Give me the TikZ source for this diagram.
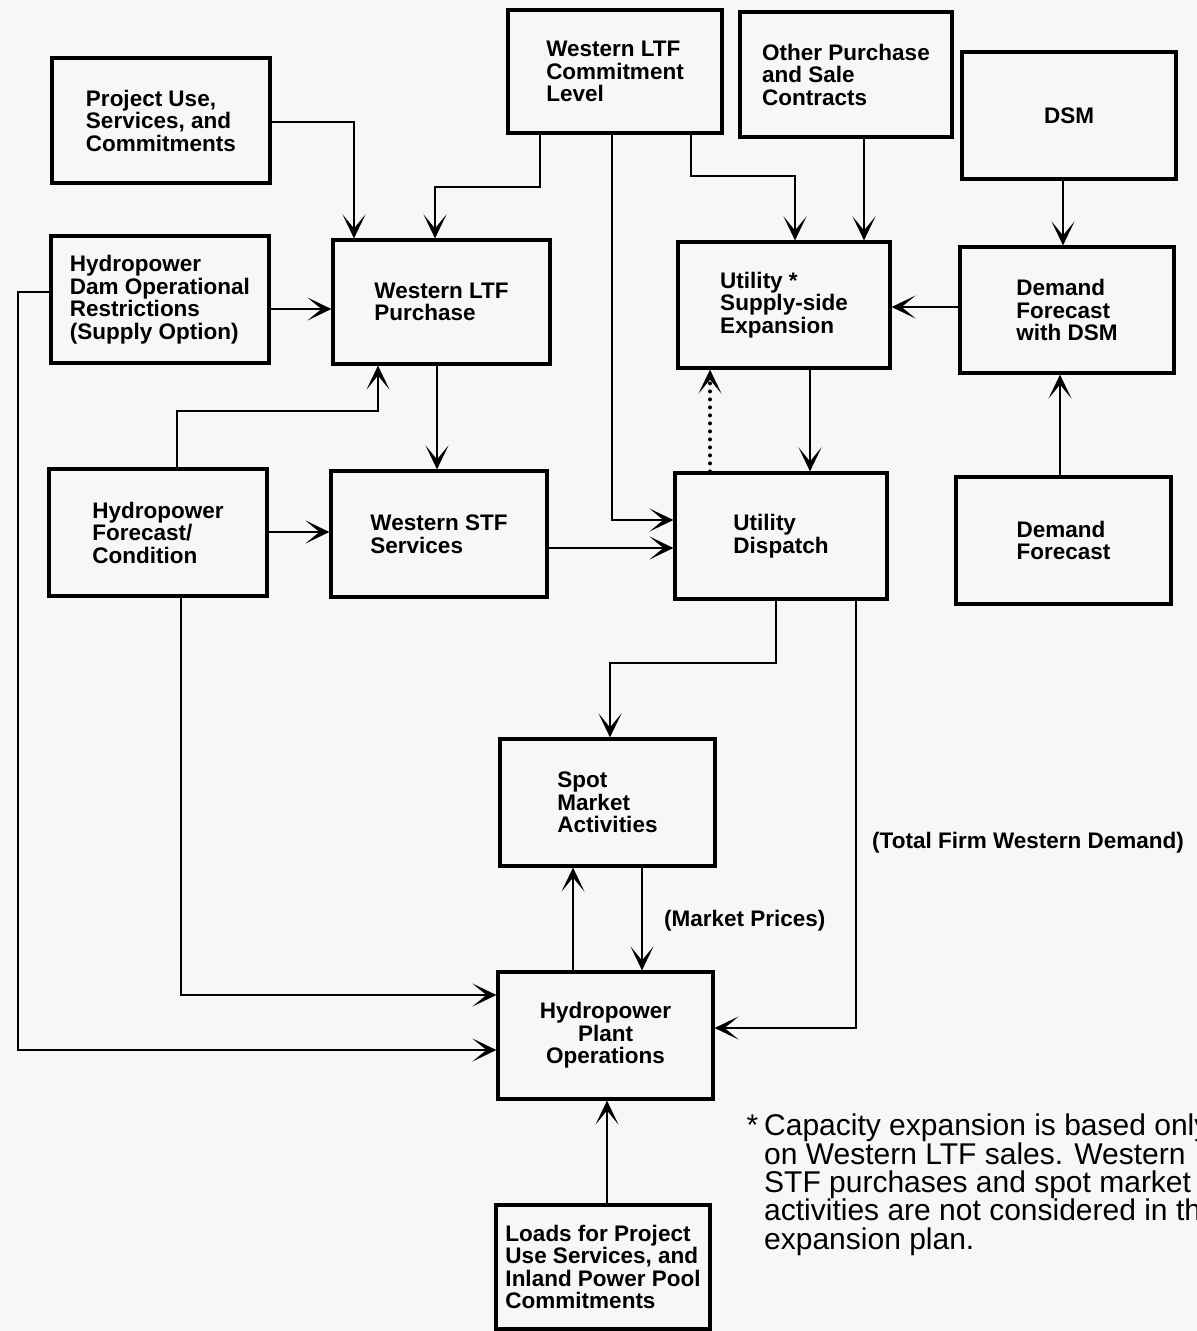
\documentclass[tikz,border=0pt]{standalone}
\usepackage{fontspec}
\setmainfont{Liberation Sans}
\usetikzlibrary{arrows.meta}
\definecolor{bg}{RGB}{247,247,247}
\begin{document}
\begin{tikzpicture}[x=1pt,y=-1pt,
  box/.style={draw, line width=3.2pt, inner sep=0pt, align=left,
    font=\fontsize{22.5}{22.5}\selectfont\bfseries},
  tip/.tip={Stealth[length=24pt,width=23pt,inset=14pt]},
  arr/.style={line width=2.9pt, -tip},
  dotarr/.style={line width=4pt, line cap=round, dash pattern=on 0pt off 8pt, -tip},
  lbl/.style={inner sep=0pt, anchor=west, font=\fontsize{22.5}{22.5}\selectfont\bfseries},
  note/.style={inner sep=0pt, anchor=north west, align=left, font=\fontsize{30}{28.3}\selectfont}]
\fill[bg] (0,0) rectangle (1197,1331);
\useasboundingbox (0,0) rectangle (1197,1331);
\clip (0,0) rectangle (1197,1331);

% boxes
\node[box, minimum width=218pt, minimum height=125pt] (PU) at (161,120.5) {Project Use,\hspace{8pt}\\Services, and\hspace{8pt}\\Commitments\hspace{8pt}};
\node[box, minimum width=214pt, minimum height=123pt] (WCL) at (615,71.5) {Western LTF\\Commitment\\Level};
\node[box, minimum width=212pt, minimum height=125pt] (OPC) at (846,74.5) {Other Purchase\\and Sale\\Contracts};
\node[box, minimum width=214pt, minimum height=127pt] (DSM) at (1069,115.5) {DSM};
\node[box, minimum width=218pt, minimum height=127pt] (HDR) at (160,299.5) {Hydropower\\Dam Operational\\Restrictions\\(Supply Option)};
\node[box, minimum width=217pt, minimum height=124pt] (WLP) at (441.5,302) {Western LTF\\Purchase};
\node[box, minimum width=212pt, minimum height=126pt] (USE) at (784,305) {Utility *\\Supply-side\\Expansion};
\node[box, minimum width=214pt, minimum height=126pt] (DFD) at (1067,310) {Demand\\Forecast\\with DSM};
\node[box, minimum width=218pt, minimum height=127pt] (HFC) at (158,532.5) {Hydropower\\Forecast/\\Condition};
\node[box, minimum width=216pt, minimum height=126pt] (WSS) at (439,534) {Western STF\\Services};
\node[box, minimum width=212pt, minimum height=126pt] (UD) at (781,536) {Utility\\Dispatch};
\node[box, minimum width=215pt, minimum height=127pt] (DF) at (1063.5,540.5) {Demand\\Forecast};
\node[box, minimum width=215pt, minimum height=127pt] (SMA) at (607.5,802.5) {Spot\\Market\\Activities};
\node[box, align=center, minimum width=215pt, minimum height=127pt] (HPO) at (605.5,1035.5) {Hydropower\\Plant\\Operations};
\node[box, minimum width=214pt, minimum height=124pt] (LPU) at (603,1267) {Loads for Project\\Use Services, and\\Inland Power Pool\\Commitments};

% connectors
\draw[arr] (PU.east |- 0,122) -| (WLP.north -| 354,0);
\draw[arr] (WCL.south -| 540,0) -- (540,187) -| (WLP.north -| 435,0);
\draw[arr] (HDR.east |- 0,309) -- (WLP.west |- 0,309);
\draw[arr] (HDR.west |- 0,292) -- (18,292) |- (HPO.west |- 0,1050);
\draw[arr] (HFC.north -| 177,0) |- (378,411) -- (WLP.south -| 378,0);
\draw[arr] (WLP.south -| 437,0) -- (WSS.north -| 437,0);
\draw[arr] (HFC.east |- 0,532) -- (WSS.west |- 0,532);
\draw[arr] (HFC.south -| 181,0) |- (HPO.west |- 0,995);
\draw[arr] (WSS.east |- 0,548) -- (UD.west |- 0,548);
\draw[arr] (WCL.south -| 612,0) |- (UD.west |- 0,520);
\draw[arr] (WCL.south -| 691,0) |- (795,176) -- (USE.north -| 795,0);
\draw[arr] (OPC.south -| 864,0) -- (USE.north -| 864,0);
\draw[arr] (DSM.south -| 1063,0) -- (DFD.north -| 1063,0);
\draw[arr] (DFD.west |- 0,307) -- (USE.east |- 0,307);
\draw[arr] (USE.south -| 810,0) -- (UD.north -| 810,0);
\draw[dotarr] (UD.north -| 710,0) -- (USE.south -| 710,0);
\draw[arr] (DF.north -| 1060,0) -- (DFD.south -| 1060,0);
\draw[arr] (UD.south -| 776,0) |- (610,663) -- (SMA.north -| 610,0);
\draw[arr] (UD.south -| 856,0) |- (HPO.east |- 0,1028);
\draw[arr] (HPO.north -| 573,0) -- (SMA.south -| 573,0);
\draw[arr] (SMA.south -| 642,0) -- (HPO.north -| 642,0);
\draw[arr] (LPU.north -| 607,0) -- (HPO.south -| 607,0);

% labels
\node[lbl] (mp) at (664,921) {(Market Prices)};
\node[lbl] (tfwd) at (872,843) {(Total Firm Western Demand)};
\node[note] (fn) at (764,1114) {\llap{*\hspace{6pt}}Capacity expansion is based only\\on Western LTF sales. Western\\STF purchases and spot market\\activities are not considered in the\\expansion plan.};
\end{tikzpicture}
\end{document}
